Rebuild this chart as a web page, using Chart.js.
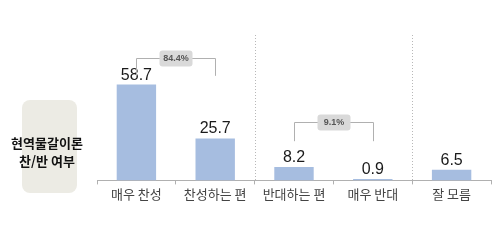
<!DOCTYPE html>
<html lang="ko">
<head>
<meta charset="UTF-8" />
<title>현역물갈이론 찬/반 여부</title>
<script src="https://cdn.jsdelivr.net/npm/chart.js"></script>
<style>
  html, body { margin: 0; padding: 0; background: #fff; }
  #wrap { width: 500px; height: 250px; }
</style>
</head>
<body>
<div id="wrap"><canvas id="chart" width="500" height="250"></canvas></div>
<script>
  const categories = ['매우 찬성', '찬성하는 편', '반대하는 편', '매우 반대', '잘 모름'];
  const values = [58.7, 25.7, 8.2, 0.9, 6.5];
  const titleLines = ['현역물갈이론', '찬/반 여부'];
  // brackets: category index range, sum label, level and leg end in data units
  const groupFrom = [0, 2];
  const groupTo = [1, 3];
  const groupLabels = ['84.4%', '9.1%'];
  const groupLevel = [75, 36];
  const groupLegEnd = [64, 24];
  // dotted separators after these category indexes
  const separators = [1, 3];

  const KR = "'Noto Sans CJK KR', 'Noto Sans', sans-serif";

  function rrect(ctx, x, y, w, h, r) {
    ctx.beginPath();
    ctx.moveTo(x + r, y);
    ctx.arcTo(x + w, y, x + w, y + h, r);
    ctx.arcTo(x + w, y + h, x, y + h, r);
    ctx.arcTo(x, y + h, x, y, r);
    ctx.arcTo(x, y, x + w, y, r);
    ctx.closePath();
  }

  const extras = {
    id: 'extras',
    beforeDatasetsDraw(chart) {
      const ctx = chart.ctx, x = chart.scales.x, y = chart.scales.y;
      ctx.save();
      // left title box
      ctx.fillStyle = '#ecebe4';
      rrect(ctx, 22, 100, 55, 93, 8);
      ctx.fill();
      ctx.fillStyle = '#111';
      ctx.font = 'bold 13px ' + KR;
      ctx.textAlign = 'center';
      ctx.textBaseline = 'middle';
      titleLines.forEach((t, i) => ctx.fillText(t, 47, 143 + i * 18));

      // dotted separators
      ctx.strokeStyle = '#b8b8b8';
      ctx.lineWidth = 1;
      ctx.setLineDash([1, 2]);
      const top = y.getPixelForValue(y.max), base = y.getPixelForValue(0);
      separators.forEach(i => {
        const px = Math.round((x.getPixelForValue(i) + x.getPixelForValue(i + 1)) / 2) + 0.5;
        ctx.beginPath();
        ctx.moveTo(px, top);
        ctx.lineTo(px, base);
        ctx.stroke();
      });
      ctx.restore();
    },
    afterDatasetsDraw(chart) {
      const ctx = chart.ctx, x = chart.scales.x, y = chart.scales.y;
      const meta = chart.getDatasetMeta(0);
      ctx.save();
      // value labels
      ctx.fillStyle = '#1a1a1a';
      ctx.font = '16px "Liberation Sans", Arial, sans-serif';
      ctx.textAlign = 'center';
      ctx.textBaseline = 'alphabetic';
      meta.data.forEach((bar, i) => {
        ctx.fillText(values[i].toFixed(1), bar.x, bar.y - 5);
      });

      // brackets
      groupLabels.forEach((lab, g) => {
        const x1 = Math.round(x.getPixelForValue(groupFrom[g])) + 0.5;
        const x2 = Math.round(x.getPixelForValue(groupTo[g])) + 0.5;
        const yl = Math.round(y.getPixelForValue(groupLevel[g])) + 0.5;
        const ye = y.getPixelForValue(groupLegEnd[g]);
        ctx.strokeStyle = '#b0b0b0';
        ctx.lineWidth = 1;
        ctx.beginPath();
        ctx.moveTo(x1, ye);
        ctx.lineTo(x1, yl);
        ctx.lineTo(x2, yl);
        ctx.lineTo(x2, ye);
        ctx.stroke();
        const cx = (x1 + x2) / 2;
        const w = 33, h = 16;
        ctx.fillStyle = '#d9d9d9';
        rrect(ctx, cx - w / 2, yl - h / 2, w, h, 3);
        ctx.fill();
        ctx.fillStyle = '#555';
        ctx.font = 'bold 9px "Liberation Sans", Arial, sans-serif';
        ctx.textBaseline = 'middle';
        ctx.fillText(lab, cx, yl + 0.5);
      });
      ctx.restore();
    }
  };

  new Chart(document.getElementById('chart'), {
    type: 'bar',
    data: {
      labels: categories,
      datasets: [{
        data: values,
        backgroundColor: '#a6bde0',
        barPercentage: 0.5,
        categoryPercentage: 1.0
      }]
    },
    options: {
      responsive: false,
      animation: false,
      layout: { padding: { left: 97, right: 9, top: 35, bottom: 46 } },
      plugins: { legend: { display: false }, tooltip: { enabled: false } },
      scales: {
        x: {
          offset: true,
          grid: {
            offset: true,
            drawOnChartArea: false,
            tickLength: 4,
            color: '#b0b0b0'
          },
          border: { color: '#b0b0b0' },
          ticks: {
            padding: 2,
            color: '#444',
            font: { family: KR, size: 13 }
          }
        },
        y: {
          display: false,
          min: 0,
          max: 89
        }
      }
    },
    plugins: [extras]
  });
</script>
</body>
</html>
